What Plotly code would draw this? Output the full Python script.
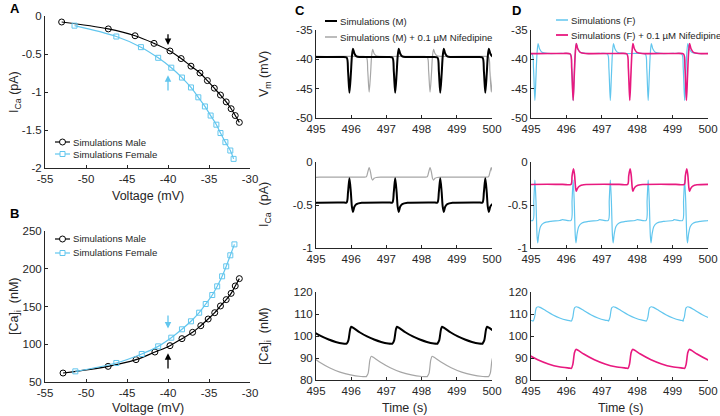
import plotly.graph_objects as go

# ---- panel A / B: steady-state curves ----
male_v = [-52.97, -47.28, -44.02, -41.7, -39.76, -38.4, -37.2, -36.1, -35.2, -34.35, -33.6, -32.9, -32.3, -31.8, -31.3]
male_ica = [-0.079, -0.17, -0.26, -0.36, -0.46, -0.56, -0.66, -0.75, -0.85, -0.95, -1.04, -1.13, -1.22, -1.31, -1.40]
female_v = [-51.4, -46.3, -43.3, -41.2, -39.6, -38.3, -37.2, -36.3, -35.5, -34.8, -34.1, -33.6, -33.0, -32.4, -32.0]
female_ica = [-0.127, -0.27, -0.41, -0.55, -0.68, -0.81, -0.94, -1.07, -1.19, -1.31, -1.43, -1.54, -1.66, -1.77, -1.88]

male_v_b = [-52.8, -47.3, -43.9, -41.6, -39.76, -38.3, -37.0, -36.0, -35.1, -34.3, -33.6, -32.9, -32.3, -31.8, -31.3]
male_ca = [61.9, 70.7, 79.6, 89.7, 98.1, 107.4, 115.8, 124.6, 133.4, 141.8, 150.7, 159.1, 167.4, 177.2, 186.9]
female_v_b = [-51.3, -46.3, -43.2, -41.2, -39.6, -38.3, -37.2, -36.2, -35.4, -34.6, -34.0, -33.4, -32.9, -32.4, -31.9]
female_ca = [64.1, 75.2, 87.1, 97.2, 108.7, 119.8, 130.4, 141.8, 153.3, 165.2, 176.7, 190.0, 203.2, 217.8, 232.3]

# ---- panels C / D: spike times (time of Vm minimum); first/last fall outside 495-500 ----
times_m = [494.66, 495.95, 497.25, 498.53, 499.81, 501.1]
times_m_nif = [494.78, 496.51, 498.24, 499.98, 501.71]
times_f = [494.05, 495.11, 496.19, 497.24, 498.31, 499.34, 500.4]
times_f_nif = [494.59, 496.19, 497.79, 499.39, 500.99]

# one cycle of each trace: offsets (s) from spike time and values
vm_m_dt = [-0.25, -0.08, -0.04, 0.0, 0.04, 0.07, 0.1, 0.14, 0.2, 0.3]
vm_m = [-39.6, -39.7, -42.0, -45.7, -42.5, -39.5, -38.2, -39.0, -39.5, -39.6]
vm_m_nif = [-39.5, -39.6, -42.0, -45.6, -42.5, -39.4, -38.3, -39.0, -39.4, -39.5]

ica_m_dt = [-0.2, -0.08, -0.04, 0.0, 0.04, 0.07, 0.1, 0.14, 0.2, 0.35]
ica_m = [-0.47, -0.47, -0.35, -0.19, -0.35, -0.52, -0.58, -0.52, -0.49, -0.475]
ica_m_nif = [-0.175, -0.172, -0.12, -0.065, -0.12, -0.19, -0.21, -0.19, -0.18, -0.176]

ca_m_dt = [-0.08, -0.03, 0.02, 0.05, 0.1, 0.3, 0.5, 0.7, 0.9, 1.1, 1.2]
ca_m = [96.5, 98.0, 103.0, 104.2, 103.8, 101.6, 99.8, 98.4, 97.3, 96.6, 96.5]
ca_m_nif_dt = [-0.08, -0.03, 0.02, 0.06, 0.12, 0.3, 0.6, 0.9, 1.2, 1.5, 1.65]
ca_m_nif = [81.5, 83.0, 89.0, 90.8, 90.3, 88.3, 85.6, 83.6, 82.3, 81.6, 81.5]

vm_f_dt = [-0.3, -0.08, -0.04, 0.0, 0.03, 0.06, 0.09, 0.13, 0.2, 0.35]
vm_f = [-39.0, -39.1, -41.5, -47.0, -43.0, -39.0, -37.3, -38.2, -38.8, -39.0]

ica_f_dt = [-0.3, -0.06, -0.03, 0.0, 0.03, 0.06, 0.08, 0.11, 0.16, 0.25, 0.45, 0.7]
ica_f = [-0.67, -0.68, -0.45, -0.21, -0.45, -0.85, -0.94, -0.84, -0.75, -0.71, -0.69, -0.68]
ica_f_nif_dt = [-0.3, -0.06, -0.03, 0.01, 0.04, 0.07, 0.09, 0.12, 0.18, 0.3]
ica_f_nif = [-0.26, -0.26, -0.16, -0.08, -0.15, -0.30, -0.34, -0.31, -0.28, -0.265]

ca_f_dt = [-0.05, -0.01, 0.04, 0.09, 0.15, 0.3, 0.5, 0.7, 0.9, 1.0]
ca_f = [106.8, 108.5, 112.8, 113.3, 113.0, 111.6, 109.7, 108.2, 107.2, 106.9]
ca_f_nif_dt = [-0.05, -0.01, 0.04, 0.08, 0.14, 0.3, 0.6, 0.9, 1.2, 1.5]
ca_f_nif = [85.3, 87.0, 92.5, 93.9, 93.5, 91.8, 89.2, 87.3, 86.0, 85.4]

BLACK = "#000000"
GRAY = "#a6a6a6"
BLUE = "#62c6ee"
MAGENTA = "#e8197f"
AXC = "#262626"
FONT = "Liberation Sans, Arial, sans-serif"
W, H = 720, 416


def cycles(times, dt, vals):
    t, y = [], []
    for t0 in times:
        t.extend(t0 + d for d in dt)
        y.extend(vals)
    return t, y


def px(x):
    return x / W


def py(y):
    return 1 - y / H


fig = go.Figure()

# A and B
for xa, ya, xs, ys, color, sym, size in [
    ("x", "y", male_v, male_ica, BLACK, "circle-open", 6),
    ("x", "y", female_v, female_ica, BLUE, "square-open", 5),
    ("x2", "y2", male_v_b, male_ca, BLACK, "circle-open", 6),
    ("x2", "y2", female_v_b, female_ca, BLUE, "square-open", 5),
]:
    fig.add_scatter(x=xs, y=ys, mode="lines+markers", showlegend=False,
                    line=dict(color=color, width=1.2, shape="spline"),
                    marker=dict(symbol=sym, size=size, color=color, line=dict(width=1)),
                    xaxis=xa, yaxis=ya)

# C
traces_c = [
    (GRAY, 1.2, times_m_nif, [(vm_m_dt, vm_m_nif), (ica_m_dt, ica_m_nif), (ca_m_nif_dt, ca_m_nif)]),
    (BLACK, 2, times_m, [(vm_m_dt, vm_m), (ica_m_dt, ica_m), (ca_m_dt, ca_m)]),
]
for color, width, times, rows in traces_c:
    for i, (dt, vals) in enumerate(rows):
        t, y = cycles(times, dt, vals)
        fig.add_scatter(x=t, y=y, mode="lines", showlegend=False,
                        line=dict(color=color, width=width, shape="spline", smoothing=0.8),
                        xaxis=f"x{3 + i}", yaxis=f"y{3 + i}")

# D
traces_d = [
    (BLUE, 1.2, times_f, [(vm_f_dt, vm_f), (ica_f_dt, ica_f), (ca_f_dt, ca_f)]),
    (MAGENTA, 1.6, times_f_nif, [(vm_f_dt, vm_f), (ica_f_nif_dt, ica_f_nif), (ca_f_nif_dt, ca_f_nif)]),
]
for color, width, times, rows in traces_d:
    for i, (dt, vals) in enumerate(rows):
        t, y = cycles(times, dt, vals)
        fig.add_scatter(x=t, y=y, mode="lines", showlegend=False,
                        line=dict(color=color, width=width, shape="spline", smoothing=0.8),
                        xaxis=f"x{6 + i}", yaxis=f"y{6 + i}")


def axis(domain, rng, vals, anchor):
    return dict(domain=domain, range=rng, tickvals=vals, ticktext=[f"{v:g}" for v in vals],
                anchor=anchor, showline=True, linecolor=AXC, linewidth=1, ticks="inside",
                ticklen=3, tickcolor=AXC, showgrid=False, zeroline=False, automargin=False,
                tickfont=dict(size=11.5, color=AXC, family=FONT))


xa = [px(45), px(250)]
xc = [px(316), px(492)]
xd = [px(531), px(708)]
r1 = [py(118), py(30)]
r2 = [py(248), py(162)]
r3 = [py(380), py(292)]
tvals = [495, 496, 497, 498, 499, 500]
vvals = [-55, -50, -45, -40, -35, -30]

layout = dict(
    width=W, height=H, margin=dict(l=0, r=0, t=0, b=0, autoexpand=False),
    paper_bgcolor="white", plot_bgcolor="white", showlegend=False,
    font=dict(family=FONT, color=AXC, size=11),
    xaxis=axis(xa, [-55, -30], vvals, "y"),
    yaxis=axis([py(168), py(16)], [-2, 0], [-2, -1.5, -1, -0.5, 0], "x"),
    xaxis2=axis(xa, [-55, -30], vvals, "y2"),
    yaxis2=axis([py(382), py(231)], [50, 250], [50, 100, 150, 200, 250], "x2"),
    xaxis3=axis(xc, [495, 500], tvals, "y3"),
    yaxis3=axis(r1, [-50, -35], [-50, -45, -40, -35], "x3"),
    xaxis4=axis(xc, [495, 500], tvals, "y4"),
    yaxis4=axis(r2, [-1, 0], [-1, -0.5, 0], "x4"),
    xaxis5=axis(xc, [495, 500], tvals, "y5"),
    yaxis5=axis(r3, [80, 120], [80, 90, 100, 110, 120], "x5"),
    xaxis6=axis(xd, [495, 500], tvals, "y6"),
    yaxis6=axis(r1, [-50, -35], [-50, -45, -40, -35], "x6"),
    xaxis7=axis(xd, [495, 500], tvals, "y7"),
    yaxis7=axis(r2, [-1, 0], [-1, -0.5, 0], "x7"),
    xaxis8=axis(xd, [495, 500], tvals, "y8"),
    yaxis8=axis(r3, [80, 120], [80, 90, 100, 110, 120], "x8"),
)
fig.update_layout(**layout)

ann = []
shapes = []
for txt, x, y in [("A", 8, 8), ("B", 8, 214), ("C", 293, 10), ("D", 510, 10)]:
    ann.append(dict(text=f"<b>{txt}</b>", x=px(x), y=py(y), xref="paper", yref="paper",
                    showarrow=False, font=dict(size=13, color="black"), xanchor="left", yanchor="middle"))
for txt, x, y in [("Voltage (mV)", 148, 196), ("Voltage (mV)", 148, 408),
                  ("Time (s)", 404, 408), ("Time (s)", 620, 408)]:
    ann.append(dict(text=txt, x=px(x), y=py(y), xref="paper", yref="paper", showarrow=False,
                    font=dict(size=12.5, color=AXC), xanchor="center", yanchor="middle"))
for txt, x, y in [("I<sub>Ca</sub> (pA)", 15, 92), ("[Ca]<sub>i</sub>  (nM)", 15, 306),
                  ("V<sub>m</sub> (mV)", 265, 74), ("I<sub>Ca</sub>  (pA)", 265, 205),
                  ("[Ca]<sub>i</sub>  (nM)", 265, 336)]:
    ann.append(dict(text=txt, x=px(x), y=py(y), xref="paper", yref="paper", showarrow=False,
                    textangle=-90, font=dict(size=12.5, color=AXC), xanchor="center", yanchor="middle"))

# legends drawn by hand: (label, colour, line x0, x1, y, marker, line width)
legend_items = [
    ("Simulations Male", BLACK, 55, 70, 142, "circle", 1.2),
    ("Simulations Female", BLUE, 55, 70, 154, "square", 1.2),
    ("Simulations Male", BLACK, 55, 70, 239, "circle", 1.2),
    ("Simulations Female", BLUE, 55, 70, 253, "square", 1.2),
    ("Simulations (M)", BLACK, 325, 337, 21, None, 2),
    ("Simulations (M) + 0.1 µM Nifedipine", GRAY, 325, 337, 37, None, 1.5),
    ("Simulations (F)", BLUE, 556, 568, 20, None, 1.5),
    ("Simulations (F) + 0.1 µM Nifedipine", MAGENTA, 556, 568, 35, None, 1.8),
]
for label, color, x0, x1, y, mk, lw in legend_items:
    shapes.append(dict(type="line", xref="paper", yref="paper", x0=px(x0), x1=px(x1),
                       y0=py(y), y1=py(y), line=dict(color=color, width=lw)))
    if mk:
        c = (x0 + x1) / 2
        r = 3 if mk == "circle" else 2.5
        shapes.append(dict(type="circle" if mk == "circle" else "rect", xref="paper", yref="paper",
                           x0=px(c - r), x1=px(c + r), y0=py(y - r), y1=py(y + r),
                           fillcolor="white", line=dict(color=color, width=1)))
    ann.append(dict(text=label, x=px(x1 + 1), y=py(y), xref="paper", yref="paper", showarrow=False,
                    font=dict(size=9.6, color=AXC), xanchor="left", yanchor="middle"))

# arrows at -40 mV
for xr, yr, tail, head, color in [("x", "y", -0.22, -0.38, BLACK), ("x", "y", -1.0, -0.78, BLUE),
                                  ("x2", "y2", 140, 121, BLUE), ("x2", "y2", 66, 88, BLACK)]:
    ann.append(dict(x=-40, y=head, ax=-40, ay=tail, xref=xr, yref=yr, axref=xr, ayref=yr,
                    text="", showarrow=True, arrowhead=2, arrowsize=1, arrowwidth=1.3, arrowcolor=color))
fig.update_layout(annotations=ann, shapes=shapes)

fig.write_html("out.html", config={"displayModeBar": False},
               post_script="document.body.style.margin='0';document.body.style.overflow='hidden';")
